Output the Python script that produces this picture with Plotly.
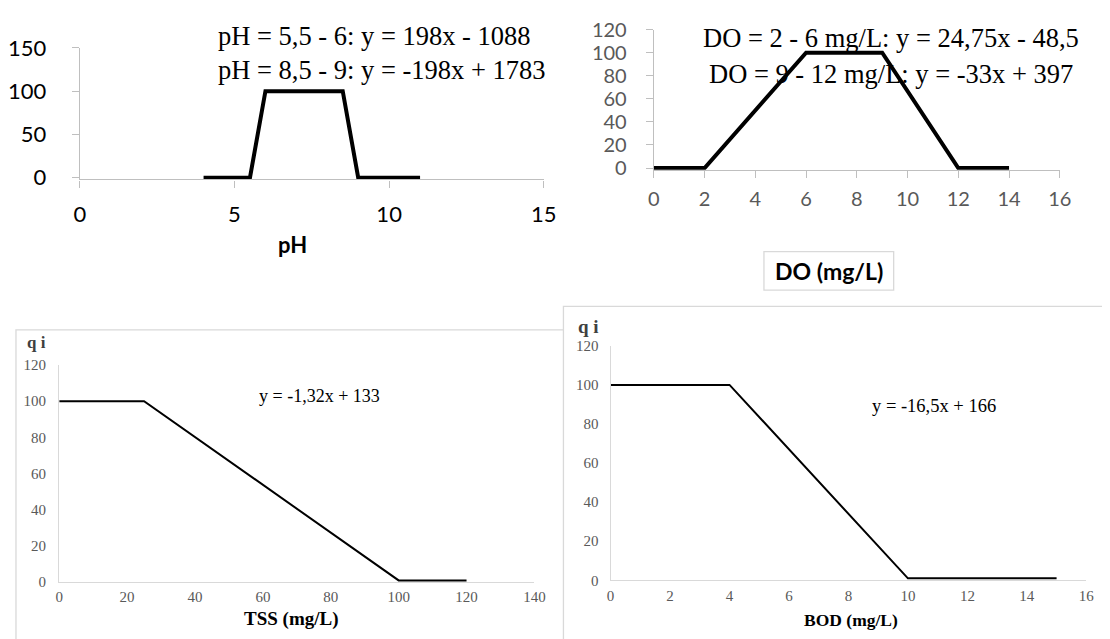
import plotly.graph_objects as go

W, H = 1110, 639
OFF = 8  # page body margin offset compensation

# ---- data ----
ph_x = [4, 5.5, 6, 8.5, 9, 11]
ph_y = [0, 0, 100, 100, 0, 0]
do_x = [0, 2, 6, 9, 12, 14]
do_y = [0, 0, 100, 100, 0, 0]
tss_x = [0, 25, 100, 120]
tss_y = [100, 100, 1, 1]
bod_x = [0, 4, 10, 15]
bod_y = [100, 100, 1, 1]

ph_xticks = [0, 5, 10, 15]
ph_yticks = [0, 50, 100, 150]
do_xticks = [0, 2, 4, 6, 8, 10, 12, 14, 16]
do_yticks = [0, 20, 40, 60, 80, 100, 120]
tss_xticks = [0, 20, 40, 60, 80, 100, 120, 140]
bod_xticks = [0, 2, 4, 6, 8, 10, 12, 14, 16]
q_yticks = [0, 20, 40, 60, 80, 100, 120]

ph_eq = ["pH = 5,5 - 6: y = 198x - 1088", "pH = 8,5 - 9: y = -198x + 1783"]
do_eq = ["DO = 2 - 6 mg/L: y = 24,75x - 48,5", "DO = 9 - 12 mg/L: y = -33x + 397"]
tss_eq = "y = -1,32x + 133"
bod_eq = "y = -16,5x + 166"


def px(x):
    return (x - OFF) / W


def py(y):
    return 1 - (y - OFF) / H


SANS = "Lato, Carlito, Calibri, sans-serif"
SERIF = "Liberation Serif, Times New Roman, serif"

fig = go.Figure()

fig.add_trace(go.Scatter(x=ph_x, y=ph_y, mode="lines", xaxis="x", yaxis="y",
                         line=dict(color="black", width=4), showlegend=False))
fig.add_trace(go.Scatter(x=do_x, y=do_y, mode="lines", xaxis="x2", yaxis="y2",
                         line=dict(color="black", width=4), showlegend=False))
fig.add_trace(go.Scatter(x=tss_x, y=tss_y, mode="lines", xaxis="x3", yaxis="y3",
                         line=dict(color="black", width=2), showlegend=False))
fig.add_trace(go.Scatter(x=bod_x, y=bod_y, mode="lines", xaxis="x4", yaxis="y4",
                         line=dict(color="black", width=2), showlegend=False))

top_ax = dict(showgrid=False, zeroline=False, showline=True, linecolor="#bfbfbf",
              linewidth=1.3, ticks="outside", ticklen=7, tickcolor="#bfbfbf",
              tickwidth=1.3, fixedrange=True)
bot_ax = dict(showgrid=False, zeroline=False, showline=True, linecolor="#d9d9d9",
              linewidth=1.3, ticks="", fixedrange=True,
              tickfont=dict(family=SERIF, size=15, color="#595959"))

fig.update_layout(
    width=W, height=H,
    margin=dict(l=0, r=0, t=0, b=0),
    paper_bgcolor="white", plot_bgcolor="rgba(0,0,0,0)",
    showlegend=False,
    xaxis=dict(top_ax, domain=[px(75), px(547)], range=[0, 15], tickvals=ph_xticks,
               anchor="y", ticklabelstandoff=8,
               tickfont=dict(family=SANS, size=22, color="#000000")),
    yaxis=dict(top_ax, domain=[py(171.8), py(35)], range=[-2, 150], tickvals=ph_yticks,
               anchor="x", ticklabelstandoff=21,
               tickfont=dict(family=SANS, size=22, color="#000000")),
    xaxis2=dict(top_ax, domain=[px(659), px(1072)], range=[0, 16], tickvals=do_xticks,
                anchor="y2", ticklabelstandoff=4,
                tickfont=dict(family=SANS, size=20, color="#595959")),
    yaxis2=dict(top_ax, domain=[py(161.8), py(16)], range=[-1.5, 120], tickvals=do_yticks,
                anchor="x2", ticklabelstandoff=15,
                tickfont=dict(family=SANS, size=20, color="#595959")),
    xaxis3=dict(bot_ax, domain=[px(54), px(537.5)], range=[0, 140], tickvals=tss_xticks,
                anchor="y3", ticklabelstandoff=1),
    yaxis3=dict(bot_ax, domain=[py(591), py(365)], range=[0, 120], tickvals=q_yticks,
                anchor="x3", ticklabelstandoff=9),
    xaxis4=dict(bot_ax, domain=[px(615), px(1099)], range=[0, 16], tickvals=bod_xticks,
                anchor="y4", ticklabelstandoff=2),
    yaxis4=dict(bot_ax, domain=[py(589), py(345)], range=[0, 120], tickvals=q_yticks,
                anchor="x4", ticklabelstandoff=8),
)

# panel frames (bottom panels) and DO title box
fig.add_shape(type="rect", xref="paper", yref="paper",
              x0=px(10), x1=px(620), y0=py(700), y1=py(328.5),
              line=dict(color="#d9d9d9", width=1.3), fillcolor="white", layer="below")
fig.add_shape(type="rect", xref="paper", yref="paper",
              x0=px(567), x1=px(1140), y0=py(700), y1=py(304),
              line=dict(color="#d9d9d9", width=1.3), fillcolor="white", layer="below")
fig.add_shape(type="rect", xref="paper", yref="paper",
              x0=px(771), x1=px(903), y0=py(287), y1=py(247),
              line=dict(color="#d9d9d9", width=1.3), fillcolor="white", layer="below")

ann = []
# pH equations
ann.append(dict(x=px(214), y=py(23), text=ph_eq[0], xanchor="left", yanchor="middle",
                font=dict(family=SERIF, size=26.5, color="black")))
ann.append(dict(x=px(214), y=py(58), text=ph_eq[1], xanchor="left", yanchor="middle",
                font=dict(family=SERIF, size=26.5, color="black")))
ann.append(dict(x=px(291), y=py(240), text="<b>pH</b>", xanchor="center", yanchor="middle",
                font=dict(family=SANS, size=22, color="black")))
# DO equations
ann.append(dict(x=px(900), y=py(25), text=do_eq[0], xanchor="center", yanchor="middle",
                font=dict(family=SERIF, size=26.5, color="black")))
ann.append(dict(x=px(900), y=py(62), text=do_eq[1], xanchor="center", yanchor="middle",
                font=dict(family=SERIF, size=26.5, color="black")))
ann.append(dict(x=px(837), y=py(267), text="<b>DO (mg/L)</b>", xanchor="center", yanchor="middle",
                font=dict(family=SANS, size=23, color="black")))
# TSS
ann.append(dict(x=px(31), y=py(342), text="<b>q i</b>", xanchor="center", yanchor="middle",
                font=dict(family=SERIF, size=17, color="#404040")))
ann.append(dict(x=px(319), y=py(397), text=tss_eq, xanchor="center", yanchor="middle",
                font=dict(family=SERIF, size=18, color="black")))
ann.append(dict(x=px(290), y=py(629), text="<b>TSS (mg/L)</b>", xanchor="center", yanchor="middle",
                font=dict(family=SERIF, size=19, color="black")))
# BOD
ann.append(dict(x=px(592), y=py(325), text="<b>q i</b>", xanchor="center", yanchor="middle",
                font=dict(family=SERIF, size=19, color="#404040")))
ann.append(dict(x=px(944), y=py(408), text=bod_eq, xanchor="center", yanchor="middle",
                font=dict(family=SERIF, size=18.5, color="black")))
ann.append(dict(x=px(860), y=py(630), text="<b>BOD (mg/L)</b>", xanchor="center", yanchor="middle",
                font=dict(family=SERIF, size=17.5, color="black")))

for a in ann:
    a.update(xref="paper", yref="paper", showarrow=False)
fig.update_layout(annotations=ann)

fig.write_html("out.html")
